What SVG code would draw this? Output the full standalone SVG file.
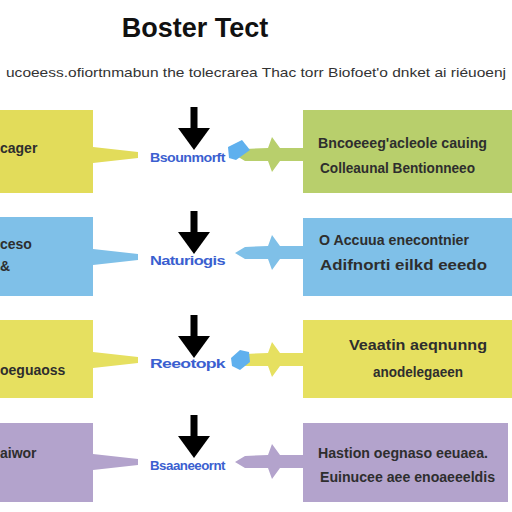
<svg xmlns="http://www.w3.org/2000/svg" width="512" height="512" viewBox="0 0 512 512">
<style>
.t{font-family:"Liberation Sans",Arial,sans-serif;font-weight:bold;fill:#2e2e2e;font-size:14px}
.lbl{font-family:"Liberation Sans",Arial,sans-serif;font-weight:bold;fill:#3b5fd0;font-size:13px;letter-spacing:-0.5px}
.ttl{font-family:"Liberation Sans",Arial,sans-serif;font-weight:bold;fill:#111;font-size:27px}
.sub{font-family:"Liberation Sans",Arial,sans-serif;fill:#333;font-size:13px}
.dn{fill:#000}
</style>
<defs>
<g id="down"><rect x="-3.5" y="0" width="7" height="22"/><polygon points="-16,21 16,21 0,43"/></g>
<polygon id="back" points="0,-7 -23,-7 -31,-18 -35,-7 -58,-6 -68,0 -58,6 -35,6 -31,17 -23,6 0,6"/>
<polygon id="taper" points="0,-8 45,-3 45,3 0,8"/>
</defs>
<rect width="512" height="512" fill="#ffffff"/>
<g id="title">
<text class="ttl" x="195" y="37" text-anchor="middle">Boster Tect</text>
<text class="sub" x="256" y="77" text-anchor="middle" textLength="500" lengthAdjust="spacingAndGlyphs">ucoeess.ofiortnmabun the tolecrarea Thac torr Biofoet'o dnket ai riéuoenj</text>
</g>
<g id="connectors">
<use href="#taper" x="93" y="155" fill="#e2dc5a"/>
<use href="#back" x="303" y="155" fill="#b8cf6c"/>
<polygon points="228,147 242,140 250,150 236,160 229,158" fill="#5fb0ee"/>
<use href="#down" class="dn" x="194" y="107"/>
<use href="#taper" x="93" y="257" fill="#7fc0e8"/>
<use href="#back" x="303" y="253" fill="#7fc0e8"/>
<use href="#down" class="dn" x="194" y="211"/>
<use href="#taper" x="93" y="360" fill="#e6e060"/>
<use href="#back" x="303" y="360" fill="#e6e060"/>
<polygon points="231,358 240,350 249,352 250,362 240,370 232,366" fill="#5fb0ee"/>
<use href="#down" class="dn" x="194" y="315"/>
<use href="#taper" x="93" y="462" fill="#b3a3cc"/>
<use href="#back" x="303" y="462" fill="#b3a3cc"/>
<use href="#down" class="dn" x="194" y="415"/>
</g>
<g id="row1-left"><rect x="0" y="110" width="93" height="83" fill="#e2dc5a"/><text class="t" x="0" y="153">cager</text></g>
<g id="row1-mid"><text class="lbl" x="150" y="162" textLength="75" lengthAdjust="spacingAndGlyphs">Bsounmorft</text></g>
<g id="row1-right"><rect x="303" y="110" width="209" height="83" fill="#b8cf6c"/>
<text class="t" x="318" y="148" textLength="169" lengthAdjust="spacingAndGlyphs">Bncoeeeg'acleole cauing</text>
<text class="t" x="320" y="173" textLength="155" lengthAdjust="spacingAndGlyphs">Colleaunal Bentionneeo</text></g>
<g id="row2-left"><rect x="0" y="217" width="93" height="79" fill="#7fc0e8"/><text class="t" x="0" y="249" fill="#2a3a80">ceso</text><text class="t" x="0" y="271">&amp;</text></g>
<g id="row2-mid"><text class="lbl" x="150" y="265" textLength="75" lengthAdjust="spacingAndGlyphs">Naturiogis</text></g>
<g id="row2-right"><rect x="303" y="218" width="209" height="78" fill="#7fc0e8"/>
<text class="t" x="319" y="245" textLength="150" lengthAdjust="spacingAndGlyphs">O Accuua enecontnier</text>
<text class="t" x="320" y="270" textLength="167" lengthAdjust="spacingAndGlyphs">Adifnorti eilkd eeedo</text></g>
<g id="row3-left"><rect x="0" y="320" width="93" height="78" fill="#e6e060"/><text class="t" x="0" y="375">oeguaoss</text></g>
<g id="row3-mid"><text class="lbl" x="150" y="368" textLength="75" lengthAdjust="spacingAndGlyphs">Reeotopk</text></g>
<g id="row3-right"><rect x="303" y="320" width="209" height="78" fill="#e6e060"/>
<text class="t" x="418" y="350" text-anchor="middle" textLength="138" lengthAdjust="spacingAndGlyphs">Veaatin aeqnunng</text>
<text class="t" x="418" y="377" text-anchor="middle" textLength="90" lengthAdjust="spacingAndGlyphs">anodelegaeen</text></g>
<g id="row4-left"><rect x="0" y="423" width="93" height="79" fill="#b3a3cc"/><text class="t" x="0" y="458">aiwor</text></g>
<g id="row4-mid"><text class="lbl" x="150" y="470" textLength="75" lengthAdjust="spacingAndGlyphs">Bsaaneeornt</text></g>
<g id="row4-right"><rect x="303" y="423" width="205" height="79" fill="#b3a3cc"/>
<text class="t" x="318" y="458" textLength="170" lengthAdjust="spacingAndGlyphs">Hastion oegnaso eeuaea.</text>
<text class="t" x="320" y="482" textLength="175" lengthAdjust="spacingAndGlyphs">Euinucee aee enoaeeeldis</text></g>
</svg>
